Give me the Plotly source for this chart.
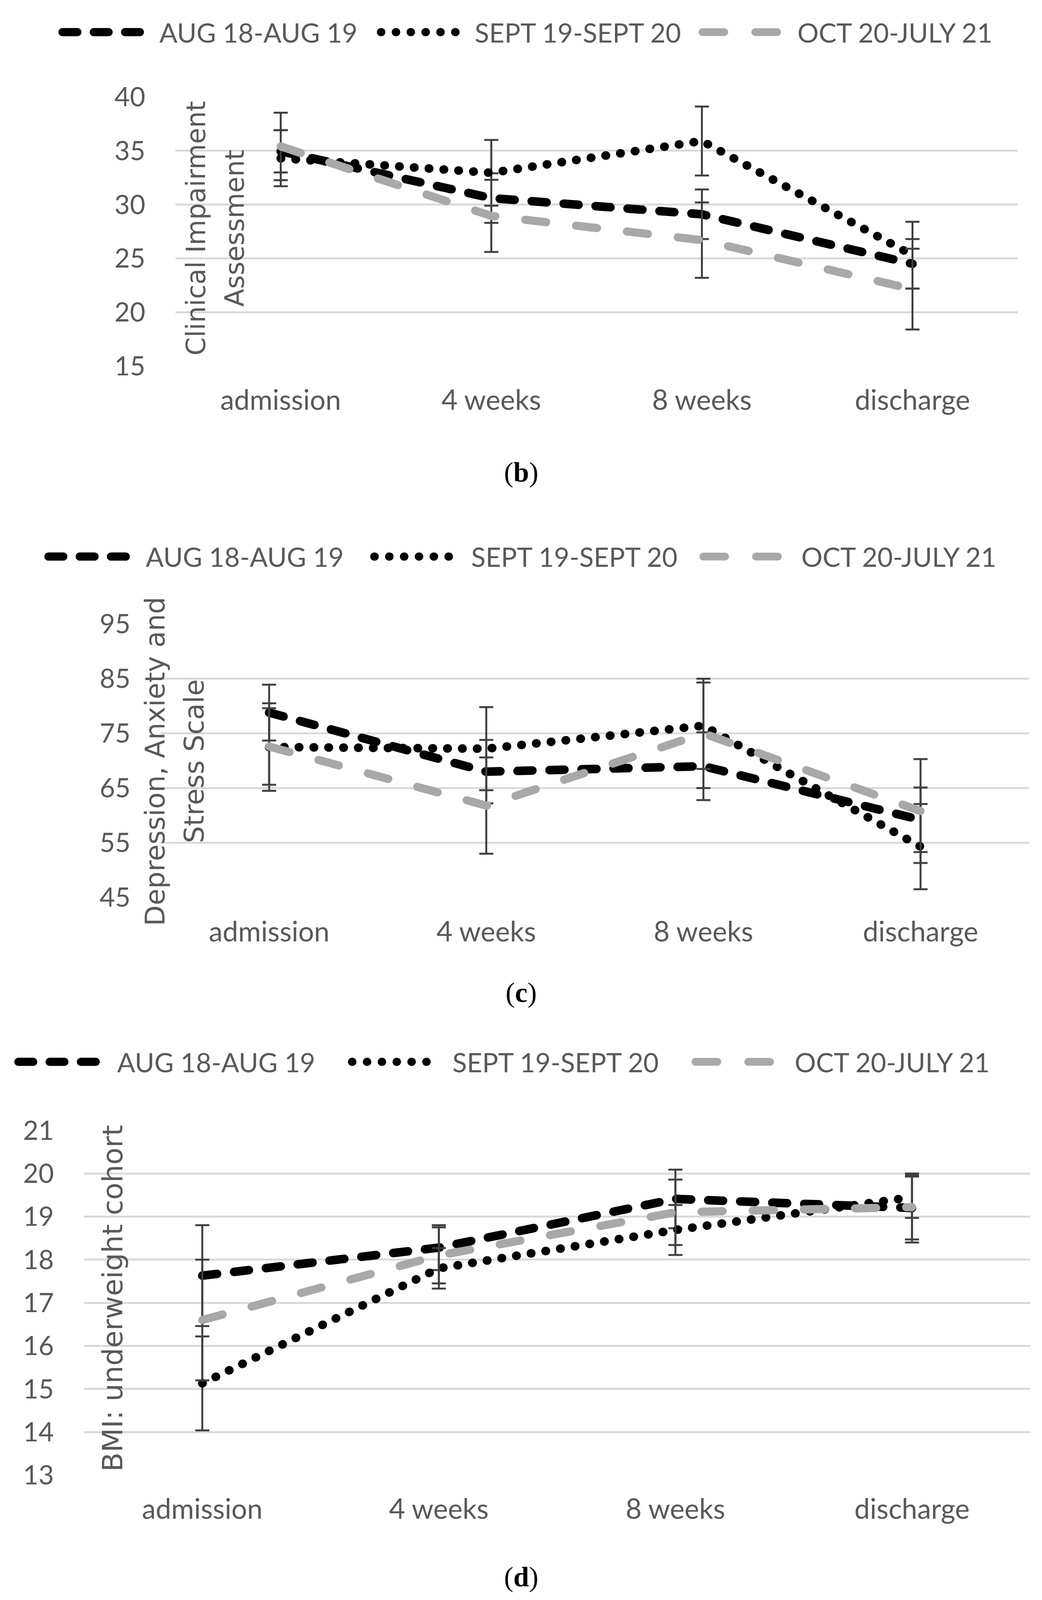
import plotly.graph_objects as go

W, H = 2667, 4194
SHIFT = 43  # the captured viewport sits ~40px lower than the page origin

categories = ["admission", "4 weeks", "8 weeks", "discharge"]
series_names = ["AUG 18-AUG 19", "SEPT 19-SEPT 20", "OCT 20-JULY 21"]

# (b) Clinical Impairment Assessment
cia_aug = [34.95, 30.6, 29.1, 24.5]
cia_aug_err = [1.97, 2.3, 2.3, 2.3]
cia_sept = [34.3, 32.95, 35.9, 25.3]
cia_sept_err = [2.6, 3.05, 3.2, 3.1]
cia_oct = [35.4, 28.95, 26.7, 22.15]
cia_oct_err = [3.13, 3.35, 3.5, 3.75]
cia_ticks = [15, 20, 25, 30, 35, 40]

# (c) Depression, Anxiety and Stress Scale
dass_aug = [78.8, 68.0, 69.0, 59.2]
dass_aug_err = [5.1, 5.8, 6.2, 5.9]
dass_sept = [72.5, 72.2, 76.4, 54.3]
dass_sept_err = [8.0, 7.6, 7.9, 7.8]
dass_oct = [72.6, 61.8, 75.0, 60.8]
dass_oct_err = [7.0, 8.8, 10.0, 9.5]
dass_ticks = [45, 55, 65, 75, 85, 95]

# (d) BMI: underweight cohort
bmi_aug = [17.63, 18.28, 19.41, 19.2]
bmi_aug_err = [1.17, 0.52, 0.68, 0.8]
bmi_sept = [15.13, 17.8, 18.69, 19.45]
bmi_sept_err = [1.09, 0.47, 0.58, 0.48]
bmi_oct = [16.6, 18.1, 19.1, 19.22]
bmi_oct_err = [1.4, 0.65, 0.76, 0.75]
bmi_ticks = [13, 14, 15, 16, 17, 18, 19, 20, 21]

GRAY_TXT = "#595959"
YTICK_FONT = dict(family="Lato, Calibri, Carlito, sans-serif", size=68, color=GRAY_TXT)
XTICK_FONT = dict(family="Lato, Calibri, Carlito, sans-serif", size=71, color=GRAY_TXT)
LEG_FONT = dict(family="Lato, Calibri, Carlito, sans-serif", size=68, color=GRAY_TXT)
TITLE_FAMILY = "DejaVu Sans, Verdana, sans-serif"

styles = [
    dict(color="#000000", width=22, dash="38px,44px"),
    dict(color="#000000", width=22, dash="1px,37px"),
    dict(color="#A8A8A8", width=21, dash="54px,77px"),
]
legend_dash = ["38px,42px", "1px,37px", "56px,79px"]

panels = [
    dict(series=[(cia_aug, cia_aug_err), (cia_sept, cia_sept_err), (cia_oct, cia_oct_err)],
         ticks=cia_ticks, yr=[15, 40], x0=449, x1=2605, ytop=252, ybot=955,
         titles=[("Clinical Impairment", 502), ("Assessment", 601)], ty=595, tsize=67,
         leg_y=83, leg=[(160, 360, 406), (975, 1166, 1213), (1798, 1990, 2039)],
         label="(<b>b</b>)", label_y=1232),
    dict(series=[(dass_aug, dass_aug_err), (dass_sept, dass_sept_err), (dass_oct, dass_oct_err)],
         ticks=dass_ticks, yr=[45, 95], x0=411, x1=2634, ytop=1628, ybot=2342,
         titles=[("Depression, Anxiety and", 397), ("Stress Scale", 497)], ty=1986, tsize=69,
         leg_y=1452, leg=[(124, 324, 371), (958, 1149, 1204), (1800, 1992, 2049)],
         label="(<b>c</b>)", label_y=2590),
    dict(series=[(bmi_aug, bmi_aug_err), (bmi_sept, bmi_sept_err), (bmi_oct, bmi_oct_err)],
         ticks=bmi_ticks, yr=[13, 21], x0=215, x1=2637, ytop=2950, ybot=3850,
         titles=[("BMI: underweight cohort", 288)], ty=3388, tsize=72,
         leg_y=2771, leg=[(47, 247, 298), (901, 1092, 1156), (1780, 1972, 2032)],
         label="(<b>d</b>)", label_y=4116),
]

fig = go.Figure()
shapes, annotations = [], []


def px(x):
    return x / W


def py(y):
    return 1 - (y - SHIFT) / H


for i, p in enumerate(panels):
    sfx = "" if i == 0 else str(i + 1)
    xa, ya = "x" + sfx, "y" + sfx
    for (vals, errs), name, st in zip(p["series"], series_names, styles):
        fig.add_trace(go.Scatter(
            x=categories, y=vals, name=name, mode="lines", xaxis=xa, yaxis=ya,
            line=dict(color=st["color"], width=st["width"], dash=st["dash"]),
            error_y=dict(type="data", array=errs, visible=True, color="#404040",
                         thickness=5, width=18),
            showlegend=False, hoverinfo="skip"))
    fig.update_layout(**{
        "xaxis" + sfx: dict(domain=[px(p["x0"]), px(p["x1"])], anchor=ya,
                            type="category", range=[-0.5, 3.5], showgrid=False,
                            zeroline=False, showline=False, ticks="",
                            tickfont=XTICK_FONT, ticklabelstandoff=40),
        "yaxis" + sfx: dict(domain=[py(p["ybot"]), py(p["ytop"])], anchor=xa,
                            range=p["yr"], tickvals=p["ticks"], showgrid=True,
                            gridcolor="#D9D9D9", gridwidth=5, zeroline=False,
                            showline=False, ticks="", tickfont=YTICK_FONT,
                            ticklabelstandoff=76),
    })
    # axis titles (stacked rotated lines, drawn over the plot as in the source)
    for txt, tx in p["titles"]:
        annotations.append(dict(text=txt, x=px(tx), y=py(p["ty"]), xref="paper", yref="paper",
                                xanchor="center", yanchor="middle", textangle=-90,
                                showarrow=False,
                                font=dict(family=TITLE_FAMILY, size=p["tsize"], color=GRAY_TXT)))
    # legend
    for (lx0, lx1, tx), name, st, dsh in zip(p["leg"], series_names, styles, legend_dash):
        shapes.append(dict(type="line", xref="paper", yref="paper",
                           x0=px(lx0), x1=px(lx1), y0=py(p["leg_y"]), y1=py(p["leg_y"]),
                           line=dict(color=st["color"], width=st["width"] - 1, dash=dsh)))
        annotations.append(dict(text=name, x=px(tx), y=py(p["leg_y"]), xref="paper", yref="paper",
                                xanchor="left", yanchor="middle", showarrow=False, font=LEG_FONT))
    annotations.append(dict(text=p["label"], x=0.5, y=py(p["label_y"]), xref="paper", yref="paper",
                            xanchor="center", yanchor="middle", showarrow=False,
                            font=dict(family="Liberation Serif, Times New Roman, serif",
                                      size=72, color="#000000")))

fig.update_layout(width=W, height=H, autosize=False,
                  margin=dict(l=0, r=0, t=0, b=0, pad=0),
                  paper_bgcolor="white", plot_bgcolor="white",
                  showlegend=False, shapes=shapes, annotations=annotations)

post = ("var s=document.createElement('style');"
        "s.innerHTML='html,body{margin:0;padding:0;overflow:hidden;}"
        " .js-line{stroke-linecap:round !important;}"
        " .shapelayer path{stroke-linecap:round !important;}';"
        "document.head.appendChild(s);"
        "var gd=document.getElementById('{plot_id}');"
        "gd.style.position='absolute';gd.style.top='0px';gd.style.left='0px';")
fig.write_html("out.html", post_script=post, config={"displayModeBar": False})
